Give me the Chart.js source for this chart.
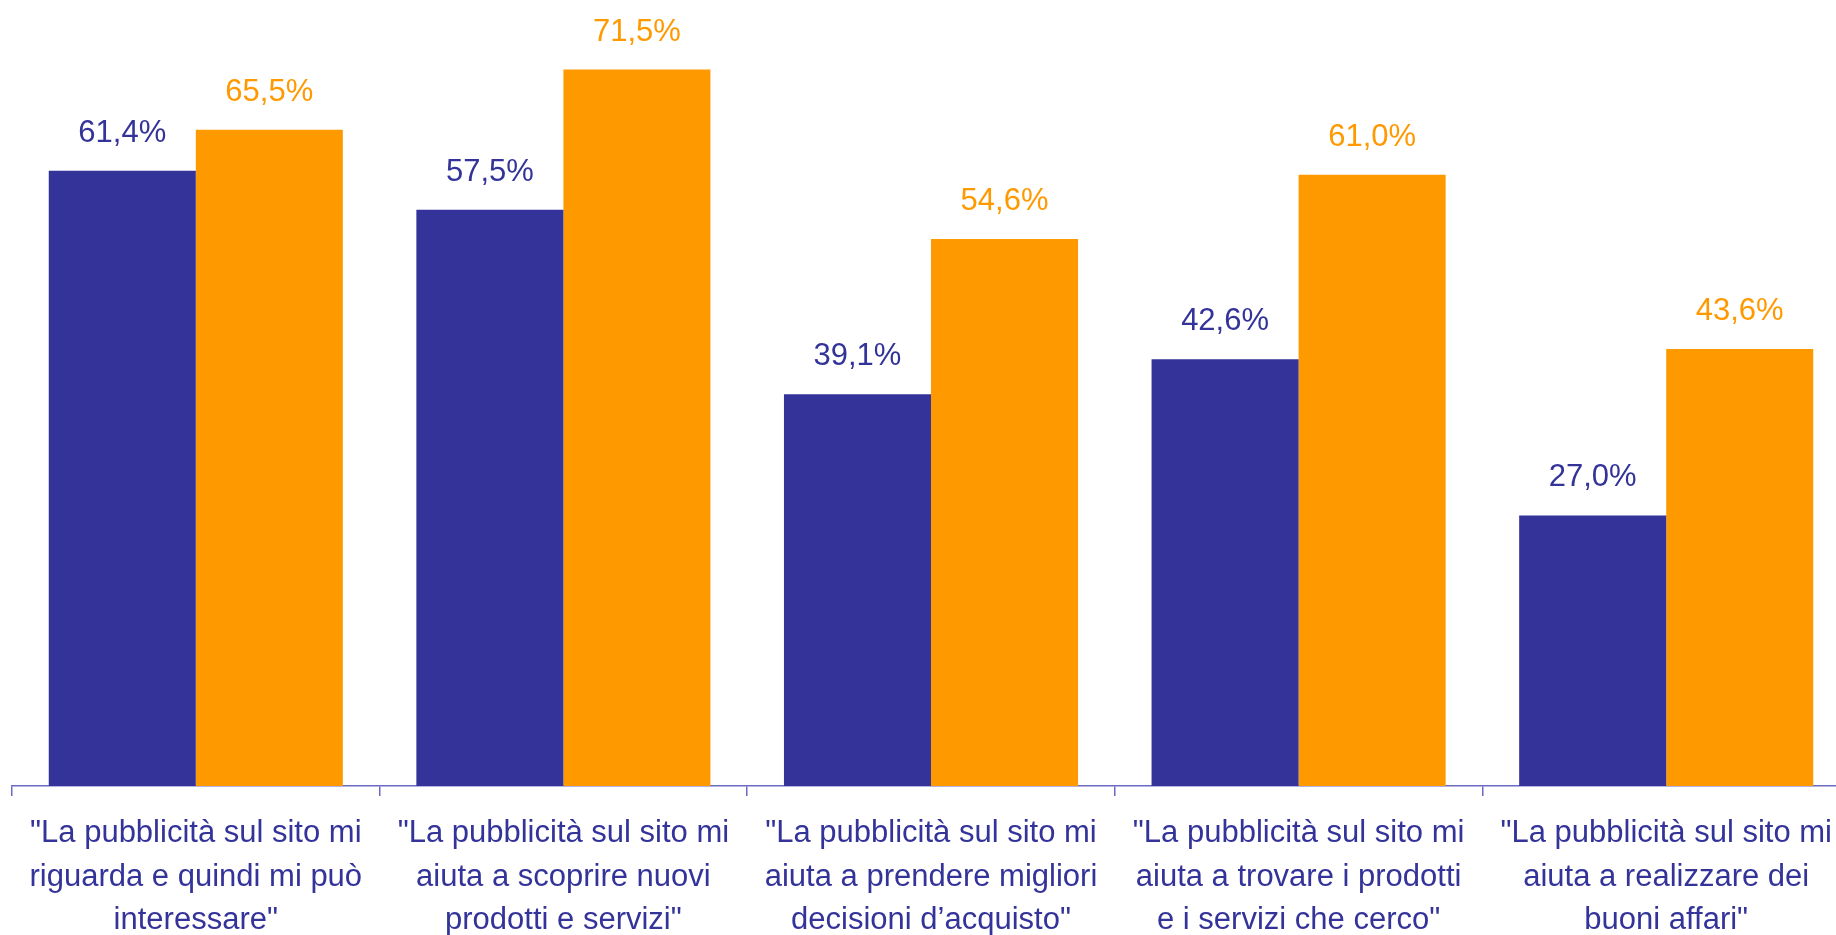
<!DOCTYPE html>
<html>
<head>
<meta charset="utf-8">
<script src="https://cdn.jsdelivr.net/npm/chart.js@4.4.1/dist/chart.umd.min.js"></script>
<style>
  html, body { margin: 0; padding: 0; background: #ffffff; overflow: hidden; }
  #wrap { width: 1850px; height: 935px; }
</style>
</head>
<body>
<div id="wrap"><canvas id="myChart" width="1850" height="935"></canvas></div>
<script>
//--DATA-------------------------------------------------------------------------------------------------
let categories = [
  ['"La pubblicità sul sito mi', "riguarda e quindi mi può", 'interessare"'],
  ['"La pubblicità sul sito mi', "aiuta a scoprire nuovi", 'prodotti e servizi"'],
  ['"La pubblicità sul sito mi', "aiuta a prendere migliori", 'decisioni d’acquisto"'],
  ['"La pubblicità sul sito mi', "aiuta a trovare i prodotti", 'e i servizi che cerco"'],
  ['"La pubblicità sul sito mi', "aiuta a realizzare dei", 'buoni affari"'],
];
let seriesNames = ["Serie 1", "Serie 2"];
let blueValues = [61.4, 57.5, 39.1, 42.6, 27.0];
let orangeValues = [65.5, 71.5, 54.6, 61.0, 43.6];

const BLUE = "#333399";
const ORANGE = "#FF9900";
const AXIS = "#6b6bc4";
const FONT = "'Liberation Sans', Arial, sans-serif";

//--VALUE LABELS-----------------------------------------------------------------------------------------
function formatValue(v) {
  return v.toFixed(1).replace(".", ",") + "%";
}

const valueLabels = {
  id: "valueLabels",
  afterDatasetsDraw(chart) {
    let ctx = chart.ctx;
    ctx.save();
    ctx.font = "31px " + FONT;
    ctx.textAlign = "center";
    ctx.textBaseline = "alphabetic";
    chart.data.datasets.forEach((ds, i) => {
      let meta = chart.getDatasetMeta(i);
      ctx.fillStyle = ds.backgroundColor;
      meta.data.forEach((bar, j) => {
        ctx.fillText(formatValue(ds.data[j]), bar.x, bar.y - 29);
      });
    });
    ctx.restore();
  },
};

//--DRAW CHART-------------------------------------------------------------------------------------------
function drawChart() {
  const ctx = document.getElementById("myChart").getContext("2d");
  const myChart = new Chart(ctx, {
    type: "bar",
    data: {
      labels: categories,
      datasets: [
        { label: seriesNames[0], data: blueValues, backgroundColor: BLUE },
        { label: seriesNames[1], data: orangeValues, backgroundColor: ORANGE },
      ],
    },
    options: {
      responsive: false,
      animation: false,
      layout: { padding: { left: 12, right: 0, top: 0, bottom: 0 } },
      plugins: { legend: { display: false }, tooltip: { enabled: false } },
      datasets: { bar: { categoryPercentage: 0.8, barPercentage: 1.0 } },
      scales: {
        x: {
          afterFit: (scale) => { scale.height = 149; },
          grid: { drawOnChartArea: false, drawTicks: true, tickLength: 10, color: AXIS, offset: true, lineWidth: 1.5 },
          border: { display: true, color: AXIS, width: 1.5 },
          ticks: {
            color: BLUE,
            font: { family: FONT, size: 31, lineHeight: 1.4 },
            padding: 16,
            maxRotation: 0,
            autoSkip: false,
          },
        },
        y: {
          display: false,
          min: 0,
          max: 78.44,
        },
      },
    },
    plugins: [valueLabels],
  });
}

drawChart();
</script>
</body>
</html>
